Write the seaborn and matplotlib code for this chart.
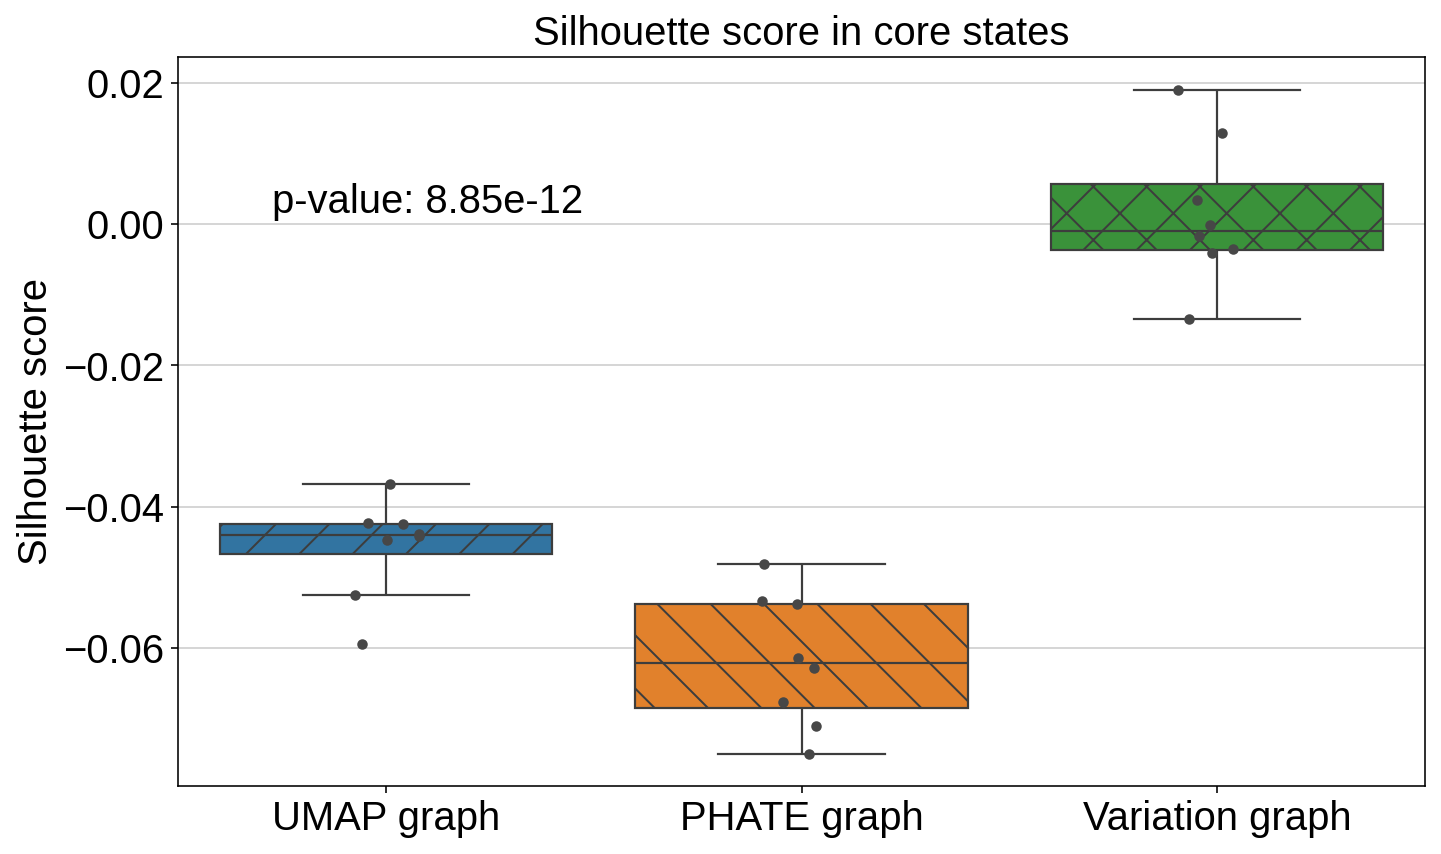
import numpy as np
import pandas as pd
import matplotlib
matplotlib.use("Agg")
import matplotlib.pyplot as plt
import seaborn as sns

# ---- data ----
methods = ["UMAP graph", "PHATE graph", "Variation graph"]
umap_scores = [-0.03673, -0.04249, -0.04231, -0.04466, -0.04391, -0.04419, -0.05255, -0.05945]
phate_scores = [-0.04816, -0.05382, -0.05340, -0.06138, -0.06289, -0.06761, -0.07110, -0.07498]
variation_scores = [0.01898, 0.01285, 0.00340, -0.00014, -0.00170, -0.00345, -0.00401, -0.01336]
hatches = ["/", "\\", "x"]
colors = ["#1f77b4", "#ff7f0e", "#2ca02c"]
pvalue_text = "p-value: 8.85e-12"
title = "Silhouette score in core states"
ylabel = "Silhouette score"

DPI = 160
def px(v):
    return v * 72.0 / DPI

plt.rcParams.update({
    "font.family": ["Liberation Sans", "DejaVu Sans"],
    "font.size": px(40),
    "axes.linewidth": px(1.6),
    "axes.edgecolor": "black",
    "xtick.major.size": px(7),
    "ytick.major.size": px(7),
    "xtick.major.width": px(1.6),
    "ytick.major.width": px(1.6),
    "xtick.major.pad": px(7),
    "ytick.major.pad": px(7),
    "axes.labelpad": px(8),
    "axes.titlepad": px(12),
    "hatch.linewidth": px(2.0),
    "axes.unicode_minus": True,
})

df = pd.DataFrame({
    "method": np.repeat(methods, [len(umap_scores), len(phate_scores), len(variation_scores)]),
    "score": umap_scores + phate_scores + variation_scores,
})

fig = plt.figure(figsize=(1441.05 / DPI, 854.05 / DPI), dpi=DPI)
ax = fig.add_axes([178 / 1441, 1 - 786 / 854, (1425 - 178) / 1441, (786 - 57) / 854])

sns.boxplot(data=df, x="method", y="score", hue="method", palette=colors,
            order=methods, hue_order=methods, showfliers=False,
            linewidth=px(2.2), legend=False, ax=ax)
for patch, h in zip(ax.patches, hatches):
    patch.set_hatch(h)

np.random.seed(3)
sns.stripplot(data=df, x="method", y="score", order=methods, color=".28",
              size=px(10.5), jitter=0.1, ax=ax)

ax.set_axisbelow(True)
ax.yaxis.grid(True, color="#cccccc", linewidth=px(1.6))
ax.xaxis.grid(False)

ax.set_xlim(-0.5, 2.5)
ax.set_ylim(-0.07954, 0.02368)
ax.set_yticks([-0.06, -0.04, -0.02, 0.0, 0.02])
ax.set_xlabel("")
ax.set_ylabel(ylabel)
ax.set_title(title, fontsize=px(40))
ax.tick_params(labelsize=px(40))
ax.text(-0.274, 0.0016, pvalue_text, fontsize=px(40), va="baseline", ha="left")

fig.savefig("out.png", dpi=DPI)
